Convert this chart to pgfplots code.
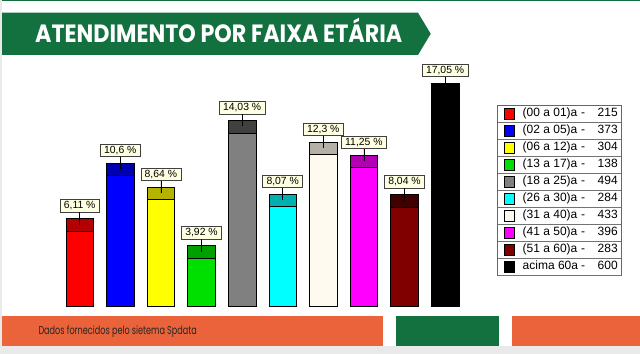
\documentclass[border=0pt]{standalone}
\usepackage{pgfplots}
\pgfplotsset{compat=1.18}
\usepackage{fontspec}
\setmainfont{Liberation Sans}
\newfontfamily\poppins{Poppins}
\definecolor{cA}{HTML}{FF0000}\definecolor{cAd}{HTML}{B40000}
\definecolor{cB}{HTML}{0000FF}\definecolor{cBd}{HTML}{0000B0}
\definecolor{cC}{HTML}{FFFF00}\definecolor{cCd}{HTML}{B4B400}
\definecolor{cD}{HTML}{00E000}\definecolor{cDd}{HTML}{00A000}
\definecolor{cE}{HTML}{808080}\definecolor{cEd}{HTML}{404040}
\definecolor{cF}{HTML}{00FFFF}\definecolor{cFd}{HTML}{00B0B0}
\definecolor{cG}{HTML}{FFFAF0}\definecolor{cGd}{HTML}{B4B0A8}
\definecolor{cH}{HTML}{FF00FF}\definecolor{cHd}{HTML}{B400B4}
\definecolor{cI}{HTML}{800000}\definecolor{cId}{HTML}{400000}
\definecolor{cJ}{HTML}{000000}\definecolor{cJd}{HTML}{000000}
\definecolor{bannergreen}{HTML}{13703F}
\definecolor{footorange}{HTML}{EB633B}
\definecolor{tip}{HTML}{FFFFE1}
\definecolor{bg}{HTML}{E9E9E9}
\pgfplotsset{sqleg/.style={legend image code/.code={%
  \path (0pt,0pt) (16.7pt,0pt);
  \draw[fill=#1, draw=black, line width=0.6pt] (6pt,-5.3pt) rectangle (16.7pt,5.3pt);
  \draw[overlay, draw=black!55, line width=0.6pt] (0pt,-8.5pt) -- (122.7pt,-8.5pt);}}}
\newcommand{\legtext}[2]{\fontsize{12}{13}\selectfont\makebox[98.3pt][l]{\makebox[57.5pt][l]{#1}\makebox[6pt][c]{-}\hfill #2\hspace{3.3pt}}}
\newcommand{\mybar}[7]{%
  \addplot[ybar, bar width=27.5pt, fill=#5, draw=black, line width=0.7pt, forget plot,
    y filter/.expression={y+1}, nodes near coords={#3 \%}] coordinates {(#1,#2)};
  \addplot[ybar, bar width=27.5pt, fill=#4, draw=black, line width=0.7pt, sqleg=#4] coordinates {(#1,#2)};
  \addlegendentry{\legtext{#6}{#7}}
}
\begin{document}
\begin{tikzpicture}[x=1pt,y=1pt]
\fill[bg] (0,0) rectangle (640,354);
\fill[white] (2,8) rectangle (640,354);
\fill[bannergreen] (2,352.5) rectangle (640,354);
\fill[bannergreen] (2,299) -- (418,299) -- (430.7,320.2) -- (418,341.3) -- (2,341.3) -- cycle;
\node[anchor=base west, inner sep=0pt, text=white, font=\poppins\bfseries\fontsize{25}{25}\selectfont] at (35,311.3) {\resizebox{367pt}{\height}{ATENDIMENTO POR FAIXA ETÁRIA}};
\fill[footorange] (2,8) rectangle (382.7,38);
\fill[bannergreen] (395.7,8) rectangle (499,38);
\fill[footorange] (512.3,8) rectangle (640,38);
\node[anchor=base west, inner sep=0pt, text=black!85, font=\poppins\fontsize{11.5}{11.5}\selectfont] at (38.3,20) {\resizebox{158.4pt}{\height}{Dados fornecidos pelo sietema Spdata}};
\begin{axis}[at={(59.4pt,47.3pt)}, anchor=south west, scale only axis,
  width=406pt, height=247.8pt, xmin=-0.5, xmax=9.5, ymin=0, ymax=20,
  hide axis, clip=false,
  every node near coord/.append style={anchor=south, yshift=6.3pt, draw=black!75, fill=tip,
    line width=0.6pt, inner xsep=3.8pt, inner ysep=0pt, minimum height=12.5pt, text=black,
    font=\fontsize{10.4}{11}\selectfont,
    append after command={(\tikzlastnode.south) edge[black, line width=0.6pt] ([yshift=-12.3pt]\tikzlastnode.south)}},
  legend style={at={(axis description cs:1.0786,0.8140)}, anchor=north west,
    draw=black!60, fill=white, line width=0.6pt, inner sep=0pt, row sep=0pt, column sep=7.7pt,
    font=\fontsize{12}{13}\selectfont,
    nodes={inner sep=0pt, text height=8.5pt, text depth=2.5pt, minimum height=17pt, anchor=west,
      font=\fontsize{12}{13}\selectfont}},
  legend cell align=left]
\mybar{0}{6.11}{6,11}{cA}{cAd}{(00 a 01)a}{215}
\mybar{1}{10.6}{10,6}{cB}{cBd}{(02 a 05)a}{373}
\mybar{2}{8.64}{8,64}{cC}{cCd}{(06 a 12)a}{304}
\mybar{3}{3.92}{3,92}{cD}{cDd}{(13 a 17)a}{138}
\mybar{4}{14.03}{14,03}{cE}{cEd}{(18 a 25)a}{494}
\mybar{5}{8.07}{8,07}{cF}{cFd}{(26 a 30)a}{284}
\mybar{6}{12.3}{12,3}{cG}{cGd}{(31 a 40)a}{433}
\mybar{7}{11.25}{11,25}{cH}{cHd}{(41 a 50)a}{396}
\mybar{8}{8.04}{8,04}{cI}{cId}{(51 a 60)a}{283}
\mybar{9}{17.05}{17,05}{cJ}{cJd}{acima 60a}{600}
\end{axis}
\end{tikzpicture}
\end{document}
